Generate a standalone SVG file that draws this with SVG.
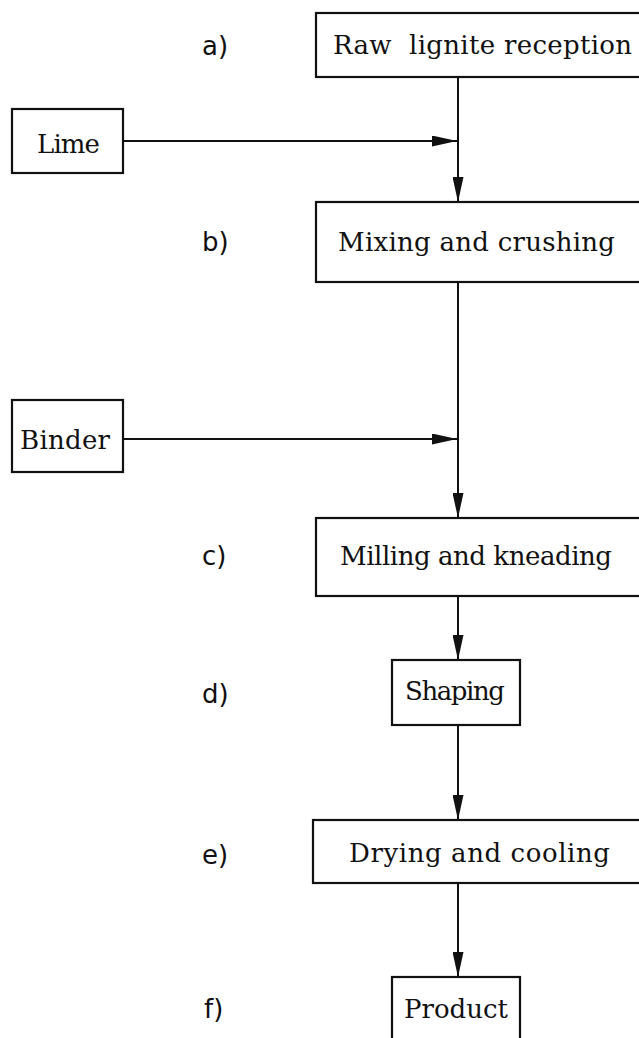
<svg xmlns="http://www.w3.org/2000/svg" width="639" height="1038" viewBox="0 0 639 1038">
  <style>
    .box { fill: #fff; stroke: #111; stroke-width: 2.2; }
    .t { font-family: "DejaVu Serif", "Liberation Serif", serif; font-size: 26px; fill: #111; }
    .lbl { font-family: "DejaVu Sans", "Liberation Sans", sans-serif; font-size: 26px; fill: #111; }
    .conn { stroke: #111; stroke-width: 2; fill: none; }
  </style>
  <defs>
    <marker id="ah" markerUnits="userSpaceOnUse" markerWidth="25" markerHeight="11" refX="25" refY="5.5" orient="auto">
      <path d="M0,0 L25,5.5 L0,11 Z" fill="#111"/>
    </marker>
  </defs>
  <rect width="639" height="1038" fill="#fff"/>

  <g id="connectors">
    <line class="conn" x1="458" y1="77" x2="458" y2="202" marker-end="url(#ah)"/>
    <line class="conn" x1="123" y1="141" x2="457" y2="141" marker-end="url(#ah)"/>
    <line class="conn" x1="458" y1="282" x2="458" y2="518" marker-end="url(#ah)"/>
    <line class="conn" x1="123" y1="439" x2="457" y2="439" marker-end="url(#ah)"/>
    <line class="conn" x1="458" y1="596" x2="458" y2="660" marker-end="url(#ah)"/>
    <line class="conn" x1="458" y1="725" x2="458" y2="820" marker-end="url(#ah)"/>
    <line class="conn" x1="458" y1="883" x2="458" y2="977" marker-end="url(#ah)"/>
  </g>

  <g id="label-a"><text class="lbl" x="202" y="55">a)</text></g>
  <g id="label-b"><text class="lbl" x="202" y="251">b)</text></g>
  <g id="label-c"><text class="lbl" x="202" y="565">c)</text></g>
  <g id="label-d"><text class="lbl" x="202" y="703">d)</text></g>
  <g id="label-e"><text class="lbl" x="202" y="864">e)</text></g>
  <g id="label-f"><text class="lbl" x="204" y="1018">f)</text></g>

  <g id="node-raw">
    <rect class="box" x="316" y="13" width="330" height="64"/>
    <text class="t" x="333" y="54" textLength="299" xml:space="preserve">Raw  lignite reception</text>
  </g>
  <g id="node-lime">
    <rect class="box" x="12" y="109" width="111" height="64"/>
    <text class="t" x="37" y="153" textLength="63">Lime</text>
  </g>
  <g id="node-mixing">
    <rect class="box" x="316" y="202" width="330" height="80"/>
    <text class="t" x="338" y="251" textLength="277">Mixing and crushing</text>
  </g>
  <g id="node-binder">
    <rect class="box" x="12" y="400" width="111" height="72"/>
    <text class="t" x="20" y="449" textLength="90">Binder</text>
  </g>
  <g id="node-milling">
    <rect class="box" x="316" y="518" width="330" height="78"/>
    <text class="t" x="340" y="565" textLength="272">Milling and kneading</text>
  </g>
  <g id="node-shaping">
    <rect class="box" x="392" y="660" width="128" height="65"/>
    <text class="t" x="405" y="700" textLength="100">Shaping</text>
  </g>
  <g id="node-drying">
    <rect class="box" x="313" y="820" width="333" height="63"/>
    <text class="t" x="349" y="862" textLength="261">Drying and cooling</text>
  </g>
  <g id="node-product">
    <rect class="box" x="392" y="977" width="128" height="70"/>
    <text class="t" x="404" y="1018" textLength="104">Product</text>
  </g>
</svg>
